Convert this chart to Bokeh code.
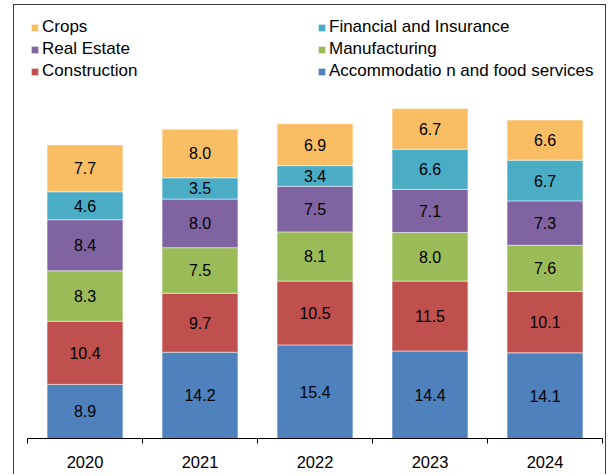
from bokeh.plotting import figure
from bokeh.models import (ColumnDataSource, Range1d, LinearAxis, FixedTicker,
                          Legend, LegendItem, LabelSet)
from bokeh.core.properties import value
from bokeh.embed import file_html
from bokeh.resources import INLINE

years = ["2020", "2021", "2022", "2023", "2024"]
accommodation = [8.9, 14.2, 15.4, 14.4, 14.1]
construction = [10.4, 9.7, 10.5, 11.5, 10.1]
manufacturing = [8.3, 7.5, 8.1, 8.0, 7.6]
real_estate = [8.4, 8.0, 7.5, 7.1, 7.3]
financial = [4.6, 3.5, 3.4, 6.6, 6.7]
crops = [7.7, 8.0, 6.9, 6.7, 6.6]

series_keys = ["accommodation", "construction", "manufacturing",
               "real_estate", "financial", "crops"]
series_vals = [accommodation, construction, manufacturing,
               real_estate, financial, crops]
series_names = ["Accommodatio n and food services", "Construction",
                "Manufacturing", "Real Estate", "Financial and Insurance",
                "Crops"]
colors = ["#4F81BD", "#C0504D", "#9BBB59", "#8064A2", "#4BACC6", "#F9BE64"]

FONT = "Liberation Sans"

xs = list(range(1, len(years) + 1))
data = {"x": xs}
for k, v in zip(series_keys, series_vals):
    data[k] = v
source = ColumnDataSource(data)

p = figure(width=593, height=470, output_backend="svg", toolbar_location=None,
           x_axis_type=None, y_axis_type=None,
           x_range=Range1d(0.5, 5.5), y_range=Range1d(0, 71.25),
           min_border_left=13, min_border_right=5, min_border_top=0,
           min_border_bottom=37,
           margin=(4, 0, 0, 13),
           styles={"border": "1px solid #3a3a3a", "border-bottom": "0px"})
p.outline_line_color = None
p.background_fill_color = "white"
p.border_fill_color = "white"

renderers = p.vbar_stack(series_keys, x="x", width=0.66, color=colors,
                         line_color="white", line_alpha=0.5, line_width=1,
                         source=source)

# value labels at segment centers
lx, ly, lt = [], [], []
for i in range(len(years)):
    base = 0.0
    for s in series_vals:
        v = s[i]
        lx.append(xs[i])
        ly.append(base + v / 2.0)
        lt.append(f"{v:.1f}")
        base += v
lab_src = ColumnDataSource(dict(x=lx, y=ly, t=lt))
labels = LabelSet(x="x", y="y", text="t", source=lab_src,
                  text_align="center", text_baseline="middle",
                  text_font=value(FONT), text_font_size="16px",
                  text_color="black")
p.add_layout(labels)

xaxis = LinearAxis(ticker=FixedTicker(ticks=xs, minor_ticks=[0.5, 1.5, 2.5, 3.5, 4.5, 5.5]))
xaxis.major_label_overrides = {x: y for x, y in zip(xs, years)}
xaxis.major_tick_line_color = None
xaxis.major_tick_out = 5
xaxis.major_tick_in = 0
xaxis.minor_tick_line_color = "black"
xaxis.minor_tick_out = 5
xaxis.minor_tick_in = 0
xaxis.axis_line_color = "black"
xaxis.major_label_standoff = 12
xaxis.major_label_text_font = FONT
xaxis.major_label_text_font_size = "16.5px"
xaxis.major_label_text_color = "black"
p.add_layout(xaxis, "below")

by_name = dict(zip(series_names, renderers))
left_names = ["Crops", "Real Estate", "Construction"]
right_names = ["Financial and Insurance", "Manufacturing",
               "Accommodatio n and food services"]

def make_legend(names, loc):
    lg = Legend(items=[LegendItem(label=n, renderers=[by_name[n]]) for n in names],
                location=loc, orientation="vertical",
                glyph_width=9, glyph_height=9, label_height=20, spacing=2,
                label_standoff=3, padding=0, margin=0,
                label_text_font=FONT, label_text_font_size="17px",
                label_text_color="black",
                border_line_color=None, background_fill_alpha=0)
    return lg

p.add_layout(make_legend(left_names, (3, 357)))
p.add_layout(make_legend(right_names, (290, 357)))

open("out.html", "w").write(file_html(p, INLINE))
